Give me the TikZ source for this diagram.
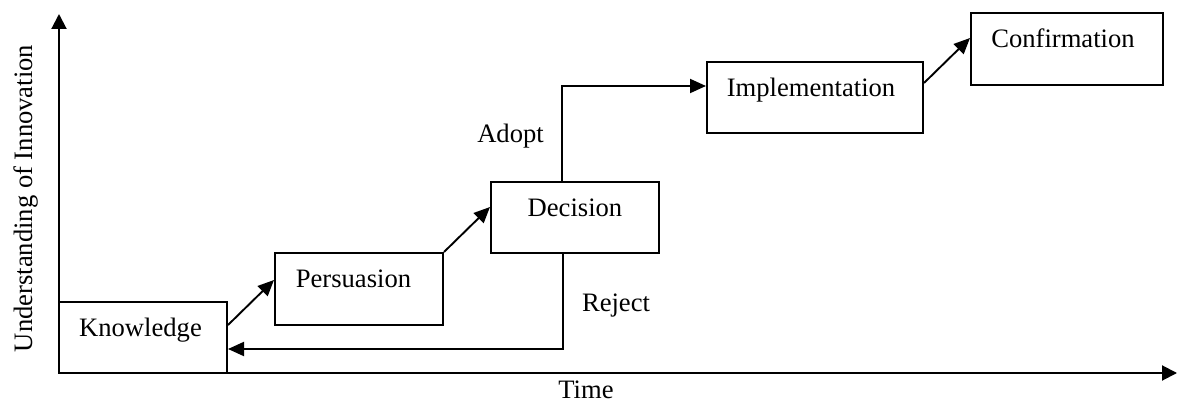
\documentclass[tikz,border=0pt]{standalone}
\usepackage{fontspec}
\setmainfont{Liberation Serif}
\usetikzlibrary{arrows.meta}
\begin{document}
\begin{tikzpicture}[x=1pt,y=-1pt,
  box/.style={draw, line width=2pt, inner sep=0pt, minimum width=#1},
  lbl/.style={font=\fontsize{26.6}{32}\selectfont, inner sep=0pt, anchor=base},
  arr/.style={line width=1.9pt, -{Triangle[length=16pt,width=14pt]}},
  axis/.style={line width=2pt, -{Triangle[length=15pt,width=15pt]}}]
\useasboundingbox (0,0) rectangle (1178,403);
% boxes
\node[box=168pt, minimum height=71pt] (k) at (143,337.5) {};
\node[box=168pt, minimum height=72pt] (p) at (359,289) {};
\node[box=168pt, minimum height=71pt] (d) at (575,217.5) {};
\node[box=216pt, minimum height=71pt] (i) at (815,97.5) {};
\node[box=192pt, minimum height=72pt] (c) at (1067,49) {};
% texts
\node[lbl] (kt) at (140.5,336) {Knowledge};
\node[lbl] (pt) at (353.5,288) {Persuasion};
\node[lbl] (dt) at (575,217) {Decision};
\node[lbl] (it) at (811,97) {Implementation};
\node[lbl] (ct) at (1063,48) {Confirmation};
\node[lbl] (adopt) at (510.5,143) {Adopt};
\node[lbl] (reject) at (616,312) {Reject};
\node[lbl] (time) at (586,398) {Time};
\node[lbl, rotate=90] (ylab) at (32,198.5) {Understanding of Innovation};
% axes
\coordinate (o) at (59,373);
\coordinate (ytop) at (59,14);
\coordinate (xend) at (1177,373);
\draw[axis] (o) -- (ytop);
\draw[axis] (o) -- (xend);
% connectors
\draw[arr] ([yshift=12.5pt]k.east) -- ([yshift=9pt]p.west);
\draw[arr] (p.north east) -- ([yshift=10.5pt]d.west);
\draw[arr] ([xshift=-12pt]d.south) |- ([yshift=-11.5pt]k.east);
\draw[arr] ([xshift=-13pt]d.north) |- ([yshift=11.5pt]i.west);
\draw[arr] ([yshift=14.5pt]i.east) -- ([yshift=11pt]c.west);
\end{tikzpicture}
\end{document}
